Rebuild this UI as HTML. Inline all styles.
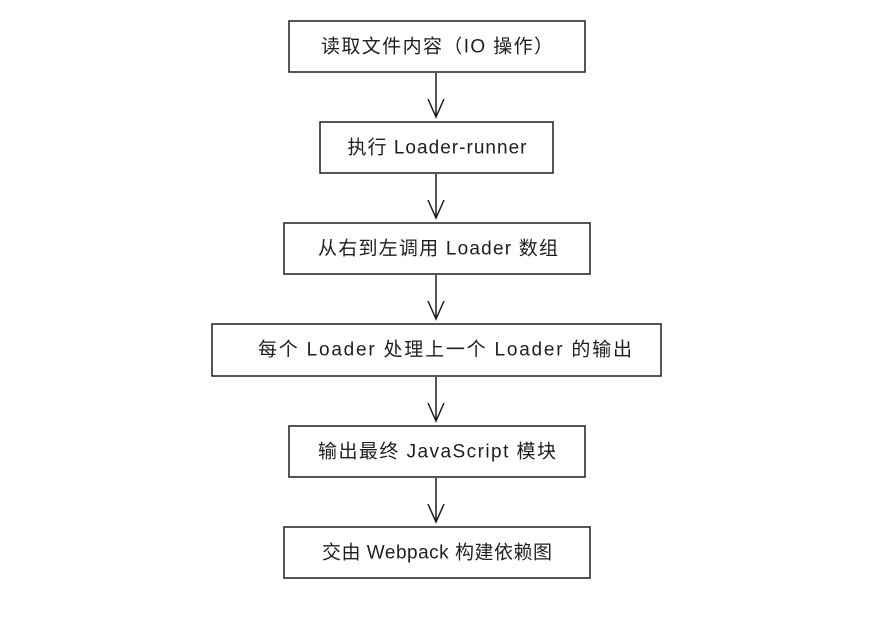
<!DOCTYPE html>
<html><head><meta charset="utf-8"><style>
body{margin:0;background:#fff;}
svg text{font-family:"Liberation Sans","Noto Sans CJK SC",sans-serif;font-size:19px;fill:#1e1e1e;text-anchor:middle;dominant-baseline:central;}
</style></head><body>
<svg width="895" height="629" xmlns="http://www.w3.org/2000/svg">
<g fill="none" stroke="#1e1e1e" stroke-width="1.5">
<rect x="289" y="21" width="296" height="51"/>
<rect x="320" y="122" width="233" height="51"/>
<rect x="284" y="223" width="306" height="51"/>
<rect x="212" y="324" width="449" height="52"/>
<rect x="289" y="426" width="296" height="51"/>
<rect x="284" y="527" width="306" height="51"/>
<path d="M436 73V117M428 99L436 117L444 99"/>
<path d="M436 174V218M428 200L436 218L444 200"/>
<path d="M436 275V319M428 301L436 319L444 301"/>
<path d="M436 377V421M428 403L436 421L444 403"/>
<path d="M436 478V522M428 504L436 522L444 504"/>
</g>
<text x="437" y="47" textLength="232" lengthAdjust="spacing">读取文件内容（IO 操作）</text>
<text x="437" y="148" textLength="179" lengthAdjust="spacing">执行 Loader-runner</text>
<text x="438" y="249" textLength="240" lengthAdjust="spacing">从右到左调用 Loader 数组</text>
<text x="445" y="350" textLength="374" lengthAdjust="spacing">每个 Loader 处理上一个 Loader 的输出</text>
<text x="437" y="452" textLength="238" lengthAdjust="spacing">输出最终 JavaScript 模块</text>
<text x="437" y="553" textLength="230" lengthAdjust="spacing">交由 Webpack 构建依赖图</text>
</svg>
</body></html>
